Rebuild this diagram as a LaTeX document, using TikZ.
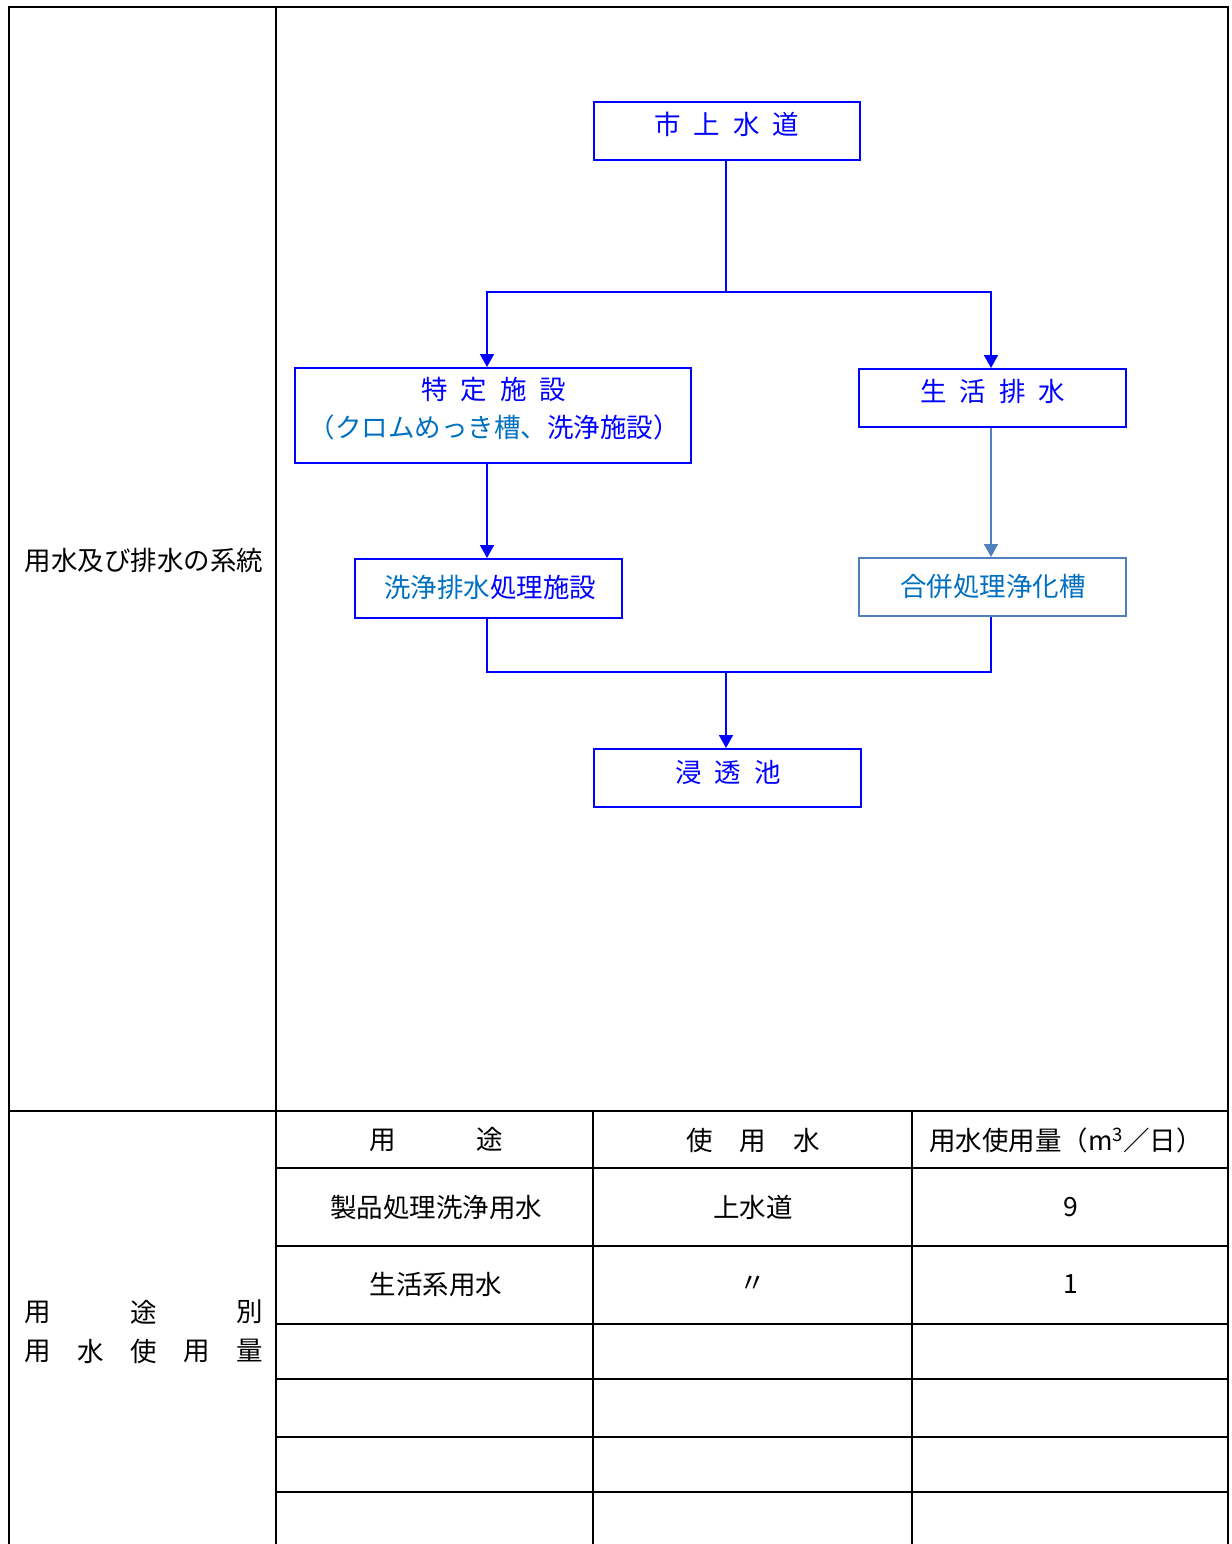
\documentclass[tikz,border=0pt]{standalone}
\usepackage{fontspec}
\setmainfont{Noto Sans CJK JP}
\usetikzlibrary{arrows.meta}
\definecolor{pblue}{RGB}{0,0,255}
\definecolor{mblue}{RGB}{0,112,192}
\definecolor{sblue}{RGB}{79,129,189}
\begin{document}
\begin{tikzpicture}[x=1pt,y=-1pt,
  box/.style={draw=pblue,line width=1.8pt,inner sep=0,anchor=north west,fill=white},
  txt/.style={inner sep=0,font=\fontsize{26.5pt}{30pt}\selectfont},
  btxt/.style={txt,text=pblue},
  grid/.style={line width=2.2pt,black},
  conn/.style={line width=1.8pt,pblue},
  arr/.style={conn,-{Triangle[length=13pt,width=14pt]}}]
\useasboundingbox (0,0) rectangle (1231,1544);
% table frame
\draw[grid] (9,1544) -- (9,7) -- (1228,7) -- (1228,1544);
\draw[grid] (276,7) -- (276,1544);
\draw[grid] (9,1111) -- (1228,1111);
\draw[grid] (593,1111) -- (593,1544);
\draw[grid] (912,1111) -- (912,1544);
\foreach \yy in {1168,1246,1324,1379,1437,1492}
  \draw[grid] (276,\yy) -- (1228,\yy);
% left labels
\node[txt] (lab1) at (144,560) {用水及び排水の系統};
\node[txt] (l1a) at (38,1312) {用};
\node[txt] (l1b) at (144,1312) {途};
\node[txt] (l1c) at (250,1312) {別};
\node[txt] (l2a) at (38,1351) {用};
\node[txt] (l2b) at (91,1351) {水};
\node[txt] (l2c) at (144,1351) {使};
\node[txt] (l2d) at (197,1351) {用};
\node[txt] (l2e) at (250,1351) {量};
% table text
\node[txt] (h1) at (436,1140) {用\hspace{80pt}途};
\node[txt] (h2) at (753,1140) {使\hspace{27pt}用\hspace{27pt}水};
\node[txt] (h3) at (1066,1140) {用水使用量（m\textsuperscript{3}／日）};
\node[txt] (r1a) at (436,1207) {製品処理洗浄用水};
\node[txt] (r1b) at (753,1207) {上水道};
\node[txt] (r1c) at (1071,1207) {9};
\node[txt] (r2a) at (436,1284) {生活系用水};
\node[txt] (r2b) at (753,1284) {〃};
\node[txt] (r2c) at (1071,1284) {1};
% boxes
\node[box,minimum width=266pt,minimum height=58pt] (b1) at (593,101) {};
\node[box,minimum width=396pt,minimum height=95pt] (b2) at (294,367) {};
\node[box,minimum width=267pt,minimum height=58pt] (b3) at (858,368) {};
\node[box,minimum width=267pt,minimum height=59pt] (b4) at (354,558) {};
\node[box,draw=sblue,minimum width=267pt,minimum height=58pt] (b5) at (858,557) {};
\node[box,minimum width=267pt,minimum height=58pt] (b6) at (593,748) {};
% box texts
\node[btxt] (t1) at (727,124) {市\hspace{13pt}上\hspace{13pt}水\hspace{13pt}道};
\node[btxt] (t2) at (494,389) {特\hspace{13pt}定\hspace{13pt}施\hspace{13pt}設};
\node[btxt] (t2b) at (494,427) {\textcolor{mblue}{（クロムめっき槽、}洗浄施設）};
\node[btxt] (t3) at (993,391) {生\hspace{13pt}活\hspace{13pt}排\hspace{13pt}水};
\node[btxt] (t4) at (490,587) {\textcolor{mblue}{洗浄排水}処理施設};
\node[btxt,text=mblue] (t5) at (993,587) {合併処理浄化槽};
\node[btxt] (t6) at (728,772) {浸\hspace{13pt}透\hspace{13pt}池};
% connectors
\coordinate (j1) at (726,292);
\coordinate (j2) at (726,672);
\draw[conn] (b1.south -| j1) -- (j1);
\draw[arr] (j1) -| (b2.north -| 487,0);
\draw[arr] (j1) -| (b3.north -| 991,0);
\draw[arr] (b2.south -| 487,0) -- (b4.north -| 487,0);
\draw[arr,sblue] (b3.south -| 991,0) -- (b5.north -| 991,0);
\draw[conn] (b4.south -| 487,0) |- (j2);
\draw[conn] (b5.south -| 991,0) |- (j2);
\draw[arr] (j2) -- (b6.north -| j2);
\end{tikzpicture}
\end{document}
